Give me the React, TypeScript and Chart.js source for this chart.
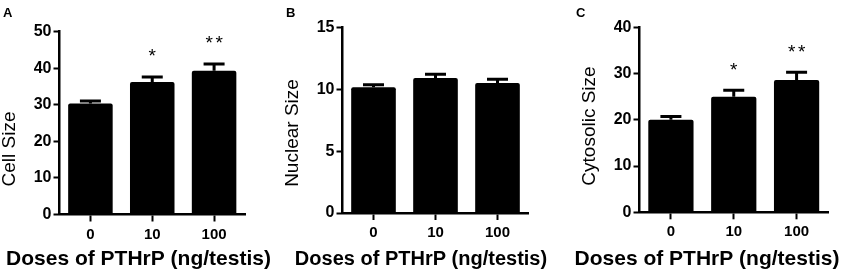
import React, { useEffect, useRef } from 'react';
import { Chart, registerables } from 'chart.js';

Chart.register(...registerables);

// ---------- data ----------
const doses = ['0', '10', '100'];

const cellSizeMean = [30.3, 36.2, 39.3];
const cellSizeSem = [0.7, 1.4, 1.8];
const cellSizeStars = ['', '*', '**'];
const cellSizeAxisMax = 50;
const cellSizeAxisStep = 10;

const nuclearSizeMean = [10.15, 10.9, 10.5];
const nuclearSizeSem = [0.2, 0.3, 0.3];
const nuclearSizeStars = ['', '', ''];
const nuclearSizeAxisMax = 15;
const nuclearSizeAxisStep = 5;

const cytosolicSizeMean = [20.0, 25.0, 28.6];
const cytosolicSizeSem = [0.7, 1.4, 1.7];
const cytosolicSizeStars = ['', '*', '**'];
const cytosolicSizeAxisMax = 40;
const cytosolicSizeAxisStep = 10;

const xAxisTitle = 'Doses of PTHrP (ng/testis)';

// ---------- layout / style ----------
const W = 851;
const H = 275;
const FONT = '"Liberation Sans", Arial, Helvetica, sans-serif';
const Y_W = 50;
const X_H = 35;

type Panel = {
  letter: string;
  yTitle: string;
  mean: number[];
  sem: number[];
  stars: string[];
  yMax: number;
  step: number;
  area: { left: number; right: number; top: number; bottom: number };
  letterPos: { x: number; y: number };
  yTitlePos: { x: number; y: number; size: number };
  xTitlePos: { x: number; y: number; size: number };
};

const PANELS: Panel[] = [
  {
    letter: 'A',
    yTitle: 'Cell Size',
    mean: cellSizeMean,
    sem: cellSizeSem,
    stars: cellSizeStars,
    yMax: cellSizeAxisMax,
    step: cellSizeAxisStep,
    area: { left: 59.5, right: 245, top: 31.5, bottom: 214.5 },
    letterPos: { x: 3, y: 16.5 },
    yTitlePos: { x: 15, y: 149, size: 19 },
    xTitlePos: { x: 138.5, y: 265, size: 21 },
  },
  {
    letter: 'B',
    yTitle: 'Nuclear Size',
    mean: nuclearSizeMean,
    sem: nuclearSizeSem,
    stars: nuclearSizeStars,
    yMax: nuclearSizeAxisMax,
    step: nuclearSizeAxisStep,
    area: { left: 342.5, right: 528.5, top: 27.3, bottom: 213 },
    letterPos: { x: 286, y: 16.5 },
    yTitlePos: { x: 298, y: 133, size: 19 },
    xTitlePos: { x: 421, y: 265, size: 20 },
  },
  {
    letter: 'C',
    yTitle: 'Cytosolic Size',
    mean: cytosolicSizeMean,
    sem: cytosolicSizeSem,
    stars: cytosolicSizeStars,
    yMax: cytosolicSizeAxisMax,
    step: cytosolicSizeAxisStep,
    area: { left: 639.5, right: 828, top: 27.3, bottom: 212.3 },
    letterPos: { x: 576, y: 16.5 },
    yTitlePos: { x: 595, y: 126, size: 19 },
    xTitlePos: { x: 707, y: 265, size: 21 },
  },
];

function makeChart(canvas: HTMLCanvasElement, p: Panel) {
  const errorBars = {
    id: 'semBars',
    afterDatasetsDraw(chart: any) {
      const { ctx } = chart;
      const meta = chart.getDatasetMeta(0);
      const yScale = chart.scales.y;
      ctx.save();
      ctx.strokeStyle = '#000';
      ctx.fillStyle = '#000';
      ctx.lineWidth = 3;
      meta.data.forEach((bar: any, i: number) => {
        const top = yScale.getPixelForValue(p.mean[i] + p.sem[i]);
        ctx.beginPath();
        ctx.moveTo(bar.x, bar.y);
        ctx.lineTo(bar.x, top);
        ctx.moveTo(bar.x - 10.5, top);
        ctx.lineTo(bar.x + 10.5, top);
        ctx.stroke();
        const s = p.stars[i];
        if (s) {
          ctx.font = `19px ${FONT}`;
          ctx.textAlign = 'center';
          ctx.textBaseline = 'alphabetic';
          (ctx as any).letterSpacing = '2.6px';
          ctx.fillText(s, bar.x + 1.3, top - 25.5 + 10.9);
          (ctx as any).letterSpacing = '0px';
        }
      });
      ctx.restore();
    },
  };

  const texts = {
    id: 'panelTexts',
    afterDraw(chart: any) {
      const { ctx } = chart;
      ctx.save();
      ctx.fillStyle = '#000';
      // panel letter
      ctx.font = `bold 13px ${FONT}`;
      ctx.textAlign = 'left';
      ctx.textBaseline = 'alphabetic';
      ctx.fillText(p.letter, p.letterPos.x, p.letterPos.y);
      // x title
      ctx.font = `bold ${p.xTitlePos.size}px ${FONT}`;
      ctx.textAlign = 'center';
      ctx.fillText(xAxisTitle, p.xTitlePos.x, p.xTitlePos.y);
      // y title
      ctx.translate(p.yTitlePos.x, p.yTitlePos.y);
      ctx.rotate(-Math.PI / 2);
      ctx.font = `${p.yTitlePos.size}px ${FONT}`;
      ctx.textAlign = 'center';
      ctx.textBaseline = 'alphabetic';
      ctx.fillText(p.yTitle, 0, 0);
      ctx.restore();
    },
  };

  const tickFont = { family: FONT, size: 15, weight: 'bold' as const };

  return new Chart(canvas, {
    type: 'bar',
    data: {
      labels: doses,
      datasets: [
        {
          data: p.mean,
          backgroundColor: '#000',
          borderWidth: 0,
          borderRadius: 2,
          barPercentage: 0.72,
          categoryPercentage: 1,
        },
      ],
    },
    options: {
      responsive: false,
      animation: false,
      devicePixelRatio: 1,
      layout: {
        padding: {
          left: p.area.left - Y_W,
          right: W - p.area.right,
          top: p.area.top,
          bottom: H - p.area.bottom - X_H,
        },
      },
      plugins: {
        legend: { display: false },
        tooltip: { enabled: false },
        title: { display: false },
      },
      scales: {
        x: {
          type: 'category',
          offset: true,
          grid: {
            display: true,
            drawOnChartArea: false,
            drawTicks: true,
            tickLength: 7,
            tickWidth: 2,
            color: '#000',
            offset: false,
          },
          border: { display: true, color: '#000', width: 2.5 },
          ticks: {
            color: '#000',
            font: tickFont,
            padding: 4,
            maxRotation: 0,
            autoSkip: false,
          },
          afterFit: (s: any) => {
            s.height = X_H;
          },
        },
        y: {
          min: 0,
          max: p.yMax,
          grid: {
            display: true,
            drawOnChartArea: false,
            drawTicks: true,
            tickLength: 6,
            tickWidth: 2,
            color: '#000',
          },
          border: { display: true, color: '#000', width: 2.5 },
          ticks: {
            stepSize: p.step,
            color: '#000',
            font: { family: FONT, size: 16, weight: 'bold' as const },
            padding: 2,
          },
          afterFit: (s: any) => {
            s.width = Y_W;
          },
        },
      },
    },
    plugins: [errorBars, texts],
  } as any);
}

export default function App() {
  const refs = [
    useRef<HTMLCanvasElement>(null),
    useRef<HTMLCanvasElement>(null),
    useRef<HTMLCanvasElement>(null),
  ];

  useEffect(() => {
    const charts = PANELS.map((p, i) => makeChart(refs[i].current as HTMLCanvasElement, p));
    return () => charts.forEach((c) => c.destroy());
  }, []);

  return (
    <div
      style={{
        position: 'fixed',
        left: 0,
        top: 0,
        width: W,
        height: H,
        background: '#fff',
        overflow: 'hidden',
      }}
    >
      {PANELS.map((p, i) => (
        <canvas
          key={p.letter}
          ref={refs[i]}
          width={W}
          height={H}
          style={{ position: 'absolute', left: 0, top: 0, width: W, height: H }}
        />
      ))}
    </div>
  );
}
